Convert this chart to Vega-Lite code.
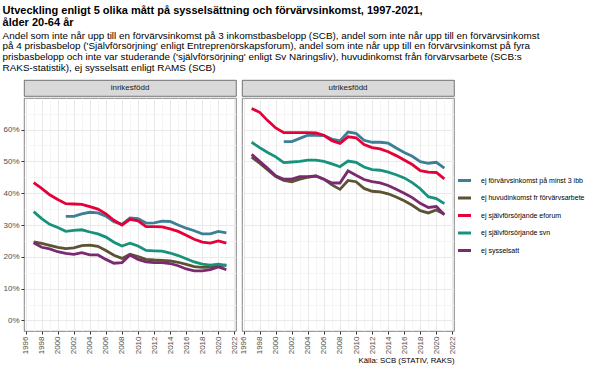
{
"$schema": "https://vega.github.io/schema/vega-lite/v6.json",
"padding": {"left": 2, "top": 5, "right": 4, "bottom": 3},
"background": "white",
"title": {
"text": ["Utveckling enligt 5 olika mått på sysselsättning och förvärvsinkomst, 1997-2021,", "ålder 20-64 år"],
"subtitle": ["Andel som inte når upp till en förvärvsinkomst på 3 inkomstbasbelopp (SCB), andel som inte når upp till en förvärvsinkomst", "på 4 prisbasbelop ('Självförsörjning' enligt Entreprenörskapsforum), andel som inte når upp till en förvärvsinkomst på fyra", "prisbasbelopp och inte var studerande ('självförsörjning' enligt Sv Näringsliv), huvudinkomst från förvärvsarbete (SCB:s", "RAKS-statistik), ej sysselsatt enligt RAMS (SCB)"],
"anchor": "start", "frame": "bounds",
"font": "Liberation Sans", "fontSize": 11, "fontWeight": "bold", "lineHeight": 11.5, "color": "#000",
"subtitleFont": "Liberation Sans", "subtitleFontSize": 9.9, "subtitleLineHeight": 10.7, "subtitleColor": "#000", "subtitlePadding": 3,
"offset": 7
},
"datasets": {"d": [
{"panel":"inrikesfödd","year":1997,"ej förvärvsinkomst på minst 3 ibb":null,"ej huvudinkomst fr förvärvsarbete":24.7,"ej självförsörjande eforum":43.3,"ej självförsörjande svn":34.2,"ej sysselsatt":24.4},
{"panel":"inrikesfödd","year":1998,"ej förvärvsinkomst på minst 3 ibb":null,"ej huvudinkomst fr förvärvsarbete":24.2,"ej självförsörjande eforum":41.5,"ej självförsörjande svn":32.0,"ej sysselsatt":23.0},
{"panel":"inrikesfödd","year":1999,"ej förvärvsinkomst på minst 3 ibb":null,"ej huvudinkomst fr förvärvsarbete":23.6,"ej självförsörjande eforum":39.5,"ej självförsörjande svn":30.2,"ej sysselsatt":22.5},
{"panel":"inrikesfödd","year":2000,"ej förvärvsinkomst på minst 3 ibb":null,"ej huvudinkomst fr förvärvsarbete":23.0,"ej självförsörjande eforum":38.0,"ej självförsörjande svn":29.2,"ej sysselsatt":21.6},
{"panel":"inrikesfödd","year":2001,"ej förvärvsinkomst på minst 3 ibb":32.7,"ej huvudinkomst fr förvärvsarbete":22.6,"ej självförsörjande eforum":36.7,"ej självförsörjande svn":28.0,"ej sysselsatt":21.1},
{"panel":"inrikesfödd","year":2002,"ej förvärvsinkomst på minst 3 ibb":32.7,"ej huvudinkomst fr förvärvsarbete":22.8,"ej självförsörjande eforum":36.6,"ej självförsörjande svn":28.3,"ej sysselsatt":20.8},
{"panel":"inrikesfödd","year":2003,"ej förvärvsinkomst på minst 3 ibb":33.5,"ej huvudinkomst fr förvärvsarbete":23.5,"ej självförsörjande eforum":36.5,"ej självförsörjande svn":28.5,"ej sysselsatt":21.3},
{"panel":"inrikesfödd","year":2004,"ej förvärvsinkomst på minst 3 ibb":34.0,"ej huvudinkomst fr förvärvsarbete":23.7,"ej självförsörjande eforum":35.8,"ej självförsörjande svn":27.8,"ej sysselsatt":20.6},
{"panel":"inrikesfödd","year":2005,"ej förvärvsinkomst på minst 3 ibb":33.8,"ej huvudinkomst fr förvärvsarbete":23.3,"ej självförsörjande eforum":35.0,"ej självförsörjande svn":27.2,"ej sysselsatt":20.6},
{"panel":"inrikesfödd","year":2006,"ej förvärvsinkomst på minst 3 ibb":32.8,"ej huvudinkomst fr förvärvsarbete":22.0,"ej självförsörjande eforum":33.5,"ej självförsörjande svn":26.2,"ej sysselsatt":19.2},
{"panel":"inrikesfödd","year":2007,"ej förvärvsinkomst på minst 3 ibb":31.0,"ej huvudinkomst fr förvärvsarbete":20.5,"ej självförsörjande eforum":31.5,"ej självförsörjande svn":24.6,"ej sysselsatt":18.0},
{"panel":"inrikesfödd","year":2008,"ej förvärvsinkomst på minst 3 ibb":30.2,"ej huvudinkomst fr förvärvsarbete":19.5,"ej självförsörjande eforum":30.0,"ej självförsörjande svn":23.4,"ej sysselsatt":18.2},
{"panel":"inrikesfödd","year":2009,"ej förvärvsinkomst på minst 3 ibb":32.2,"ej huvudinkomst fr förvärvsarbete":20.8,"ej självförsörjande eforum":31.8,"ej självförsörjande svn":24.3,"ej sysselsatt":20.6},
{"panel":"inrikesfödd","year":2010,"ej förvärvsinkomst på minst 3 ibb":32.0,"ej huvudinkomst fr förvärvsarbete":20.1,"ej självförsörjande eforum":31.3,"ej självförsörjande svn":23.4,"ej sysselsatt":19.2},
{"panel":"inrikesfödd","year":2011,"ej förvärvsinkomst på minst 3 ibb":30.6,"ej huvudinkomst fr förvärvsarbete":19.2,"ej självförsörjande eforum":29.5,"ej självförsörjande svn":22.0,"ej sysselsatt":18.4},
{"panel":"inrikesfödd","year":2012,"ej förvärvsinkomst på minst 3 ibb":30.7,"ej huvudinkomst fr förvärvsarbete":19.0,"ej självförsörjande eforum":29.5,"ej självförsörjande svn":21.9,"ej sysselsatt":18.2},
{"panel":"inrikesfödd","year":2013,"ej förvärvsinkomst på minst 3 ibb":31.2,"ej huvudinkomst fr förvärvsarbete":18.9,"ej självförsörjande eforum":29.4,"ej självförsörjande svn":21.8,"ej sysselsatt":18.2},
{"panel":"inrikesfödd","year":2014,"ej förvärvsinkomst på minst 3 ibb":31.1,"ej huvudinkomst fr förvärvsarbete":18.7,"ej självförsörjande eforum":28.8,"ej självförsörjande svn":21.2,"ej sysselsatt":17.9},
{"panel":"inrikesfödd","year":2015,"ej förvärvsinkomst på minst 3 ibb":30.0,"ej huvudinkomst fr förvärvsarbete":18.3,"ej självförsörjande eforum":28.0,"ej självförsörjande svn":20.4,"ej sysselsatt":17.2},
{"panel":"inrikesfödd","year":2016,"ej förvärvsinkomst på minst 3 ibb":29.0,"ej huvudinkomst fr förvärvsarbete":17.6,"ej självförsörjande eforum":26.8,"ej självförsörjande svn":19.4,"ej sysselsatt":16.2},
{"panel":"inrikesfödd","year":2017,"ej förvärvsinkomst på minst 3 ibb":28.2,"ej huvudinkomst fr förvärvsarbete":16.9,"ej självförsörjande eforum":25.5,"ej självförsörjande svn":18.4,"ej sysselsatt":15.6},
{"panel":"inrikesfödd","year":2018,"ej förvärvsinkomst på minst 3 ibb":27.2,"ej huvudinkomst fr förvärvsarbete":16.7,"ej självförsörjande eforum":24.6,"ej självförsörjande svn":17.7,"ej sysselsatt":15.6},
{"panel":"inrikesfödd","year":2019,"ej förvärvsinkomst på minst 3 ibb":27.2,"ej huvudinkomst fr förvärvsarbete":16.8,"ej självförsörjande eforum":24.3,"ej självförsörjande svn":17.4,"ej sysselsatt":16.0},
{"panel":"inrikesfödd","year":2020,"ej förvärvsinkomst på minst 3 ibb":28.0,"ej huvudinkomst fr förvärvsarbete":17.2,"ej självförsörjande eforum":25.0,"ej självförsörjande svn":17.7,"ej sysselsatt":16.8},
{"panel":"inrikesfödd","year":2021,"ej förvärvsinkomst på minst 3 ibb":27.5,"ej huvudinkomst fr förvärvsarbete":17.4,"ej självförsörjande eforum":24.3,"ej självförsörjande svn":17.3,"ej sysselsatt":16.0},
{"panel":"utrikesfödd","year":1997,"ej förvärvsinkomst på minst 3 ibb":null,"ej huvudinkomst fr förvärvsarbete":51.3,"ej självförsörjande eforum":66.6,"ej självförsörjande svn":56.0,"ej sysselsatt":52.2},
{"panel":"utrikesfödd","year":1998,"ej förvärvsinkomst på minst 3 ibb":null,"ej huvudinkomst fr förvärvsarbete":49.4,"ej självförsörjande eforum":65.4,"ej självförsörjande svn":54.3,"ej sysselsatt":50.0},
{"panel":"utrikesfödd","year":1999,"ej förvärvsinkomst på minst 3 ibb":null,"ej huvudinkomst fr förvärvsarbete":47.3,"ej självförsörjande eforum":62.8,"ej självförsörjande svn":52.8,"ej sysselsatt":47.8},
{"panel":"utrikesfödd","year":2000,"ej förvärvsinkomst på minst 3 ibb":null,"ej huvudinkomst fr förvärvsarbete":45.2,"ej självförsörjande eforum":60.5,"ej självförsörjande svn":51.4,"ej sysselsatt":45.5},
{"panel":"utrikesfödd","year":2001,"ej förvärvsinkomst på minst 3 ibb":56.2,"ej huvudinkomst fr förvärvsarbete":44.0,"ej självförsörjande eforum":59.0,"ej självförsörjande svn":49.6,"ej sysselsatt":44.4},
{"panel":"utrikesfödd","year":2002,"ej förvärvsinkomst på minst 3 ibb":56.2,"ej huvudinkomst fr förvärvsarbete":43.6,"ej självförsörjande eforum":59.0,"ej självförsörjande svn":49.8,"ej sysselsatt":44.4},
{"panel":"utrikesfödd","year":2003,"ej förvärvsinkomst på minst 3 ibb":57.2,"ej huvudinkomst fr förvärvsarbete":44.4,"ej självförsörjande eforum":59.0,"ej självförsörjande svn":50.0,"ej sysselsatt":45.2},
{"panel":"utrikesfödd","year":2004,"ej förvärvsinkomst på minst 3 ibb":58.2,"ej huvudinkomst fr förvärvsarbete":45.0,"ej självförsörjande eforum":59.0,"ej självförsörjande svn":50.4,"ej sysselsatt":45.2},
{"panel":"utrikesfödd","year":2005,"ej förvärvsinkomst på minst 3 ibb":58.2,"ej huvudinkomst fr förvärvsarbete":45.4,"ej självförsörjande eforum":58.9,"ej självförsörjande svn":50.4,"ej sysselsatt":45.4},
{"panel":"utrikesfödd","year":2006,"ej förvärvsinkomst på minst 3 ibb":58.1,"ej huvudinkomst fr förvärvsarbete":44.4,"ej självförsörjande eforum":58.2,"ej självförsörjande svn":50.0,"ej sysselsatt":44.4},
{"panel":"utrikesfödd","year":2007,"ej förvärvsinkomst på minst 3 ibb":57.0,"ej huvudinkomst fr förvärvsarbete":42.6,"ej självförsörjande eforum":56.5,"ej självförsörjande svn":49.2,"ej sysselsatt":43.2},
{"panel":"utrikesfödd","year":2008,"ej förvärvsinkomst på minst 3 ibb":56.4,"ej huvudinkomst fr förvärvsarbete":41.2,"ej självförsörjande eforum":55.6,"ej självförsörjande svn":48.3,"ej sysselsatt":43.2},
{"panel":"utrikesfödd","year":2009,"ej förvärvsinkomst på minst 3 ibb":59.2,"ej huvudinkomst fr förvärvsarbete":44.0,"ej självförsörjande eforum":57.7,"ej självförsörjande svn":50.1,"ej sysselsatt":47.0},
{"panel":"utrikesfödd","year":2010,"ej förvärvsinkomst på minst 3 ibb":58.8,"ej huvudinkomst fr förvärvsarbete":43.6,"ej självförsörjande eforum":57.4,"ej självförsörjande svn":49.7,"ej sysselsatt":45.6},
{"panel":"utrikesfödd","year":2011,"ej förvärvsinkomst på minst 3 ibb":56.6,"ej huvudinkomst fr förvärvsarbete":41.5,"ej självförsörjande eforum":55.3,"ej självförsörjande svn":48.2,"ej sysselsatt":44.3},
{"panel":"utrikesfödd","year":2012,"ej förvärvsinkomst på minst 3 ibb":56.0,"ej huvudinkomst fr förvärvsarbete":40.6,"ej självförsörjande eforum":54.3,"ej självförsörjande svn":47.4,"ej sysselsatt":43.6},
{"panel":"utrikesfödd","year":2013,"ej förvärvsinkomst på minst 3 ibb":56.0,"ej huvudinkomst fr förvärvsarbete":40.4,"ej självförsörjande eforum":53.9,"ej självförsörjande svn":47.2,"ej sysselsatt":43.2},
{"panel":"utrikesfödd","year":2014,"ej förvärvsinkomst på minst 3 ibb":55.7,"ej huvudinkomst fr förvärvsarbete":39.8,"ej självförsörjande eforum":53.0,"ej självförsörjande svn":46.6,"ej sysselsatt":42.4},
{"panel":"utrikesfödd","year":2015,"ej förvärvsinkomst på minst 3 ibb":54.2,"ej huvudinkomst fr förvärvsarbete":38.8,"ej självförsörjande eforum":51.8,"ej självförsörjande svn":45.8,"ej sysselsatt":41.2},
{"panel":"utrikesfödd","year":2016,"ej förvärvsinkomst på minst 3 ibb":52.8,"ej huvudinkomst fr förvärvsarbete":37.6,"ej självförsörjande eforum":50.4,"ej självförsörjande svn":44.8,"ej sysselsatt":40.0},
{"panel":"utrikesfödd","year":2017,"ej förvärvsinkomst på minst 3 ibb":51.6,"ej huvudinkomst fr förvärvsarbete":36.2,"ej självförsörjande eforum":49.0,"ej självförsörjande svn":43.3,"ej sysselsatt":38.6},
{"panel":"utrikesfödd","year":2018,"ej förvärvsinkomst på minst 3 ibb":49.9,"ej huvudinkomst fr förvärvsarbete":34.5,"ej självförsörjande eforum":47.1,"ej självförsörjande svn":41.4,"ej sysselsatt":36.8},
{"panel":"utrikesfödd","year":2019,"ej förvärvsinkomst på minst 3 ibb":49.4,"ej huvudinkomst fr förvärvsarbete":33.8,"ej självförsörjande eforum":46.6,"ej självförsörjande svn":38.9,"ej sysselsatt":35.5},
{"panel":"utrikesfödd","year":2020,"ej förvärvsinkomst på minst 3 ibb":49.7,"ej huvudinkomst fr förvärvsarbete":34.7,"ej självförsörjande eforum":46.5,"ej självförsörjande svn":38.3,"ej sysselsatt":35.8},
{"panel":"utrikesfödd","year":2021,"ej förvärvsinkomst på minst 3 ibb":47.9,"ej huvudinkomst fr förvärvsarbete":33.4,"ej självförsörjande eforum":44.5,"ej självförsörjande svn":36.7,"ej sysselsatt":33.2}
]},
"hconcat": [
{"vconcat": [
{"width": 212, "height": 16, "data": {"values": [{"panel": "inrikesfödd"}]},
 "mark": {"type": "text", "fontSize": 8, "color": "#1a1a1a", "font": "Liberation Sans"},
 "encoding": {"text": {"field": "panel"}},
 "view": {"fill": "#d9d9d9", "stroke": "#555", "strokeWidth": 0.8}},
{"width": 212, "height": 233, "data": {"name": "d"},
 "transform": [{"filter": "datum.panel === 'inrikesfödd'"}, {"fold": ["ej förvärvsinkomst på minst 3 ibb", "ej huvudinkomst fr förvärvsarbete", "ej självförsörjande eforum", "ej självförsörjande svn", "ej sysselsatt"], "as": ["measure", "value"]}],
 "mark": {"type": "line", "strokeWidth": 2.8},
 "encoding": {
  "x": {"field": "year", "type": "quantitative", "scale": {"domain": [1995.8, 2022.2], "nice": false, "zero": false},
   "axis": {"values": [1996,1997,1998,1999,2000,2001,2002,2003,2004,2005,2006,2007,2008,2009,2010,2011,2012,2013,2014,2015,2016,2017,2018,2019,2020,2021,2022], "format": "d", "labelAngle": -90, "labelExpr": "datum.value % 2 == 0 ? datum.label : ''", "tickOpacity": {"condition": {"test": "datum.value % 2 == 1", "value": 0}, "value": 1}, "gridColor": {"condition": {"test": "datum.value % 2 == 1", "value": "#f3f3f3"}, "value": "#e4e4e4"}, "title": null}},
  "y": {"field": "value", "type": "quantitative", "scale": {"domain": [-3.3, 69.9], "nice": false, "zero": false},
   "axis": {"values": [0,5,10,15,20,25,30,35,40,45,50,55,60,65], "labelExpr": "datum.value % 10 == 0 ? datum.value + '%' : ''", "tickOpacity": {"condition": {"test": "datum.value % 10 != 0", "value": 0}, "value": 1}, "gridColor": {"condition": {"test": "datum.value % 10 != 0", "value": "#f3f3f3"}, "value": "#e4e4e4"}, "title": null}},
  "color": {"field": "measure", "type": "nominal", "scale": {"domain": ["ej förvärvsinkomst på minst 3 ibb", "ej huvudinkomst fr förvärvsarbete", "ej självförsörjande eforum", "ej självförsörjande svn", "ej sysselsatt"], "range": ["#3D7F95", "#5C5335", "#E6003A", "#17927C", "#7A2A70"]}}
 }}
], "spacing": 0},
{"vconcat": [
{"width": 212, "height": 16, "data": {"values": [{"panel": "utrikesfödd"}]},
 "mark": {"type": "text", "fontSize": 8, "color": "#1a1a1a", "font": "Liberation Sans"},
 "encoding": {"text": {"field": "panel"}},
 "view": {"fill": "#d9d9d9", "stroke": "#555", "strokeWidth": 0.8}},
{"width": 212, "height": 233, "data": {"name": "d"},
 "transform": [{"filter": "datum.panel === 'utrikesfödd'"}, {"fold": ["ej förvärvsinkomst på minst 3 ibb", "ej huvudinkomst fr förvärvsarbete", "ej självförsörjande eforum", "ej självförsörjande svn", "ej sysselsatt"], "as": ["measure", "value"]}],
 "mark": {"type": "line", "strokeWidth": 2.8},
 "encoding": {
  "x": {"field": "year", "type": "quantitative", "scale": {"domain": [1995.8, 2022.2], "nice": false, "zero": false},
   "axis": {"values": [1996,1997,1998,1999,2000,2001,2002,2003,2004,2005,2006,2007,2008,2009,2010,2011,2012,2013,2014,2015,2016,2017,2018,2019,2020,2021,2022], "format": "d", "labelAngle": -90, "labelExpr": "datum.value % 2 == 0 ? datum.label : ''", "tickOpacity": {"condition": {"test": "datum.value % 2 == 1", "value": 0}, "value": 1}, "gridColor": {"condition": {"test": "datum.value % 2 == 1", "value": "#f3f3f3"}, "value": "#e4e4e4"}, "title": "Källa: SCB (STATIV, RAKS)", "titleAnchor": "end", "titleFontSize": 7.8, "titleFontWeight": "normal", "titleColor": "#000", "titlePadding": 3}},
  "y": {"field": "value", "type": "quantitative", "scale": {"domain": [-3.3, 69.9], "nice": false, "zero": false},
   "axis": {"values": [0,5,10,15,20,25,30,35,40,45,50,55,60,65], "labels": false, "ticks": false, "domain": false, "gridColor": {"condition": {"test": "datum.value % 10 != 0", "value": "#f3f3f3"}, "value": "#e4e4e4"}, "title": null}},
  "color": {"field": "measure", "type": "nominal", "scale": {"domain": ["ej förvärvsinkomst på minst 3 ibb", "ej huvudinkomst fr förvärvsarbete", "ej självförsörjande eforum", "ej självförsörjande svn", "ej sysselsatt"], "range": ["#3D7F95", "#5C5335", "#E6003A", "#17927C", "#7A2A70"]}}
 }}
], "spacing": 0}
],
"spacing": 0,
"config": {
 "font": "Liberation Sans",
 "view": {"stroke": "#666", "strokeWidth": 0.8},
 "axis": {"domain": false, "tickColor": "#333", "tickSize": 3, "labelFontSize": 8, "labelColor": "#4d4d4d", "labelPadding": 2, "gridWidth": 0.8},
 "legend": {"orient": "none", "legendX": 432, "legendY": 92, "title": null, "symbolType": "stroke", "symbolStrokeWidth": 3, "symbolSize": 170, "labelFontSize": 7, "labelColor": "#000", "rowPadding": 2.5, "labelOffset": 8}
}
}
